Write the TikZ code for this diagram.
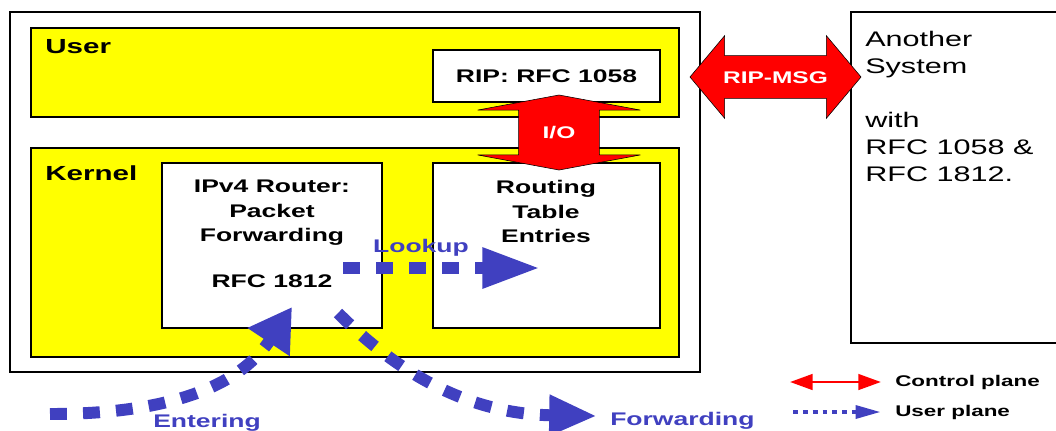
\documentclass[tikz,border=0pt]{standalone}
\usepackage{fontspec}
\setmainfont{Liberation Sans}[FakeStretch=1.45]
\usetikzlibrary{positioning, arrows.meta, fit, shapes.arrows}

\definecolor{layeryellow}{RGB}{255,255,0}
\definecolor{flowblue}{RGB}{64,64,192}
\definecolor{ctrlred}{RGB}{255,0,0}

\begin{document}
\begin{tikzpicture}[
    x=0.025cm,
    y=-0.025cm,
    box/.style={draw, line width=0.8pt, inner sep=0pt},
    layer/.style={box, fill=layeryellow},
    module/.style={box, fill=white},
    title/.style={font=\fontsize{14.5pt}{17pt}\selectfont\bfseries, inner sep=0pt},
    modtext/.style={font=\fontsize{13pt}{17.4pt}\selectfont\bfseries, align=center, inner sep=0pt},
    ctrlarrow/.style={fill=ctrlred, draw=black, line width=0.4pt, text=white, font=\fontsize{12pt}{14pt}\selectfont\bfseries},
    userflow/.style={draw=flowblue, line width=8.5pt, dash pattern=on 12pt off 11.5pt},
    flowtext/.style={text=flowblue, font=\fontsize{13pt}{15pt}\selectfont\bfseries, inner sep=0pt},
    legend/.style={font=\fontsize{11pt}{13pt}\selectfont\bfseries, inner sep=0pt}
]
\useasboundingbox (0,0) rectangle (1056,430);

%---------------- Host system ----------------
\node[box, fit={(10,12) (700,372)}] (host) {};
\node[layer, fit={(31,28) (679,117)}] (user) {};
\node[layer, fit={(31,148) (679,357)}] (kernel) {};
\node[title, anchor=base west] (userlbl) at (45,53) {User};
\node[title, anchor=base west] (kernellbl) at (45,180) {Kernel};

%---------------- Modules ----------------
\node[module, fit={(433,50) (660,102)}] (rip) {};
\node[modtext] (riplbl) at (rip.center) {RIP: RFC 1058};
\node[module, fit={(162,163) (382,328)}] (router) {};
\node[modtext, anchor=north] (routerlbl) at (272,180) {IPv4 Router:\\Packet\\Forwarding\\[15pt]RFC 1812};
\node[module, fit={(433,163) (660,328)}] (table) {};
\node[modtext, anchor=north] (tablelbl) at (546,180) {Routing\\Table\\Entries};

%---------------- Another system ----------------
\node[box, fit={(851,12) (1070,343)}] (peer) {};
\node[anchor=north west, align=left, inner sep=0pt, font=\fontsize{15pt}{19.2pt}\selectfont] (peerlbl) at (865,31)
    {Another\\System\\[19.2pt]with\\RFC 1058 \&\\RFC 1812.};

%---------------- Control plane ----------------
\node[ctrlarrow, double arrow, double arrow head extend=0.5cm, double arrow tip angle=100,
    minimum height=4.275cm, text height=8.6pt, text depth=0pt, inner ysep=10.65pt, inner xsep=0pt] (ripmsg) at (775.5,77) {RIP-MSG};
\node[ctrlarrow, double arrow, shape border rotate=90, double arrow head extend=1.025cm, double arrow tip angle=159,
    minimum height=1.875cm, text width=0.85cm, align=center, inner xsep=0.575cm, text height=8.6pt, text depth=0pt] (io) at (559,132.5) {I/O};

%---------------- User plane ----------------
\coordinate (lookup-start) at (343,268);
\coordinate (lookup-end) at (540,268);
\coordinate (enter-start) at (50,414);
\coordinate (enter-end) at (292,307);
\coordinate (fwd-start) at (338,313);
\coordinate (fwd-end) at (597,416);

\draw[userflow, -{Triangle[length=41pt,width=27pt]}] (lookup-start) -- (lookup-end);
\draw[userflow, -{Triangle[length=30pt,width=34pt]}] (enter-start) .. controls (200,414) and (250,370) .. (enter-end);
\draw[userflow, -{Triangle[length=34pt,width=27pt]}] (fwd-start) .. controls (400,375) and (470,414) .. (fwd-end);

\node[flowtext, anchor=base] (lookuplbl) at (421,252) {Lookup};
\node[flowtext, anchor=base] (enterlbl) at (207,427) {Entering};
\node[flowtext, anchor=base west] (fwdlbl) at (610,425) {Forwarding};

%---------------- Legend ----------------
\node[legend, anchor=west] (ctrl) at (895,382) {Control plane};
\node[legend, anchor=west] (uplane) at (895,412) {User plane};
\coordinate (ctrl-start) at (790,382);
\coordinate (uplane-start) at (793,412);
\draw[ctrlred, line width=2pt, {Triangle[length=16pt,width=11pt]}-{Triangle[length=16pt,width=11pt]}] (ctrl-start) -- ([xshift=-10pt]ctrl.west);
\draw[flowblue, line width=3pt, dash pattern=on 3.5pt off 3.5pt, -{Triangle[length=18pt,width=9pt]}] (uplane-start) -- ([xshift=-10pt]uplane.west);
\end{tikzpicture}
\end{document}
